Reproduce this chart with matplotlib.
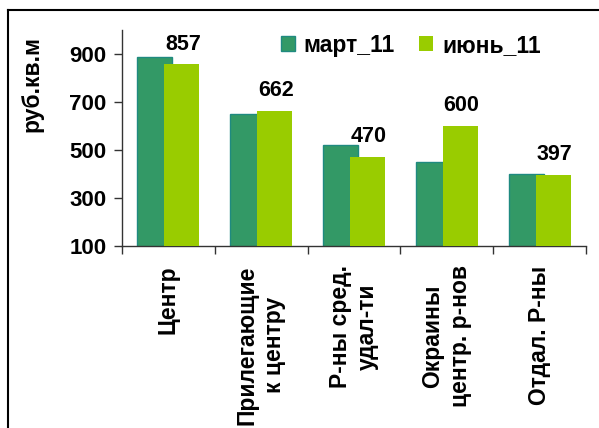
import matplotlib
matplotlib.use("Agg")
import matplotlib.pyplot as plt
from matplotlib.lines import Line2D
import numpy as np

plt.rcParams['font.family'] = ['Liberation Sans', 'DejaVu Sans']
plt.rcParams['font.weight'] = 'bold'

categories = ["Центр", "Прилегающие\nк центру", "Р-ны сред.\nудал-ти",
              "Окраины\nцентр. р-нов", "Отдал. Р-ны"]
series_names = ["март_11", "июнь_11"]
mar_11 = [886, 651, 522, 450, 398]
jun_11 = [857, 662, 470, 600, 397]
y_ticks = [100, 300, 500, 700, 900]

c_mar = "#339966"
c_mar_edge = "#1f8a80"
c_jun = "#99CC00"

fig = plt.figure(figsize=(5.99, 4.28), dpi=100)
ax = fig.add_axes([0.2037, 0.4252, 0.7746, 0.5048])

x = np.arange(len(categories))
w = 0.377
off = 0.145
ax.bar(x - off, mar_11, width=w, color=c_mar, edgecolor=c_mar_edge,
       linewidth=1.0, label=series_names[0], zorder=2)
bars_j = ax.bar(x + off, jun_11, width=w, color=c_jun, linewidth=0,
                label=series_names[1], zorder=3)

for b, v in zip(bars_j, jun_11):
    ax.annotate(f"{v}", (b.get_x() + b.get_width() / 2, v), xytext=(1, 7),
                textcoords="offset points", ha="center", va="bottom",
                fontsize=15.5, fontweight="bold")

ax.set_xlim(-0.5, len(categories) - 0.5)
ax.set_ylim(100, 1000)
ax.set_yticks(y_ticks)
ax.set_yticklabels([str(t) for t in y_ticks], fontsize=16, fontweight="bold")

# boundary ticks below the axis, labels at category centres
ax.set_xticks(np.arange(len(categories) + 1) - 0.5)
ax.set_xticklabels([])
ax.set_xticks(x, minor=True)
ax.set_xticklabels(categories, minor=True, rotation=90, fontsize=16.5,
                   fontweight="bold", multialignment="center", va="top",
                   linespacing=1.25)
ax.tick_params(axis="x", which="minor", length=0, pad=14)
ax.tick_params(axis="x", which="major", length=6, width=1, color="#333333")
ax.tick_params(axis="y", length=6, width=1, color="#333333", pad=5)

for s in ["top", "right"]:
    ax.spines[s].set_visible(False)
for s in ["left", "bottom"]:
    ax.spines[s].set_color("#333333")
    ax.spines[s].set_linewidth(1)

leg = ax.legend(loc="upper left", bbox_to_anchor=(0.298, 1.078), ncol=2,
                frameon=False, fontsize=16.5, handlelength=0.6, handleheight=0.6,
                handletextpad=0.4, columnspacing=1.05)

fig.text(0.053, 0.804, "руб.кв.м", rotation=90, ha="center", va="center",
         fontsize=16.5, fontweight="bold")

# outer frame (left and top edges)
fx = 8 / 599
fy = 1 - 10 / 428
fig.add_artist(Line2D([fx, fx], [0, fy], transform=fig.transFigure,
                      color="black", linewidth=1.5))
fig.add_artist(Line2D([fx, 1], [fy, fy], transform=fig.transFigure,
                      color="black", linewidth=1.5))

fig.savefig("out.png", dpi=100)
